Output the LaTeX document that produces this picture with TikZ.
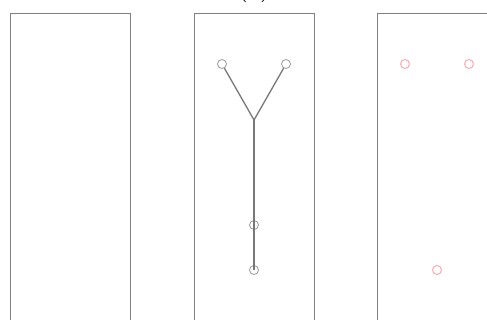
\documentclass[tikz,border=0pt]{standalone}
\usepackage{tikz}
\usetikzlibrary{positioning}
\definecolor{panelgray}{HTML}{808080}
\definecolor{stemgray}{HTML}{777777}
\definecolor{ringgray}{HTML}{999999}
\definecolor{ringred}{HTML}{FF9A9A}

\begin{document}
\begin{tikzpicture}[x=1pt,y=-1pt]
    \tikzstyle{panel}=[draw=panelgray,line width=0.9pt]
    \tikzstyle{ring}=[circle,draw=ringgray,line width=0.8pt,minimum size=9pt,inner sep=0pt]
    \tikzstyle{redring}=[ring,draw=ringred]
    \tikzstyle{stem}=[draw=stemgray,line width=1.3pt]
    \clip (0,0) rectangle (487,320);
    \useasboundingbox (0,0) rectangle (487,320);
    % panel caption, cut off by the top edge
    \node[anchor=base,font=\huge\bfseries] (cap) at (254,-2) {(b)};
    % three panels
    \draw[panel] (10,330) -- (10,13) -- (130,13) -- (130,330);
    \draw[panel] (194,330) -- (194,13) -- (314,13) -- (314,330);
    \draw[panel] (377,330) -- (377,13) -- (497,13) -- (497,330);
    % middle panel: skeleton
    \node[ring] (tl) at (222,64) {};
    \node[ring] (tr) at (286,64) {};
    \coordinate (jn) at (254,120);
    \node[ring] (md) at (254,225) {};
    \node[ring] (bt) at (254,270) {};
    \draw[stem] (tl) -- (jn) -- (tr);
    \draw[stem] (jn) -- (md.center) -- (bt.center);
    % right panel: points only
    \node[redring] (rtl) at (405,64) {};
    \node[redring] (rtr) at (469,64) {};
    \node[redring] (rbt) at (437,270) {};
\end{tikzpicture}
\end{document}
